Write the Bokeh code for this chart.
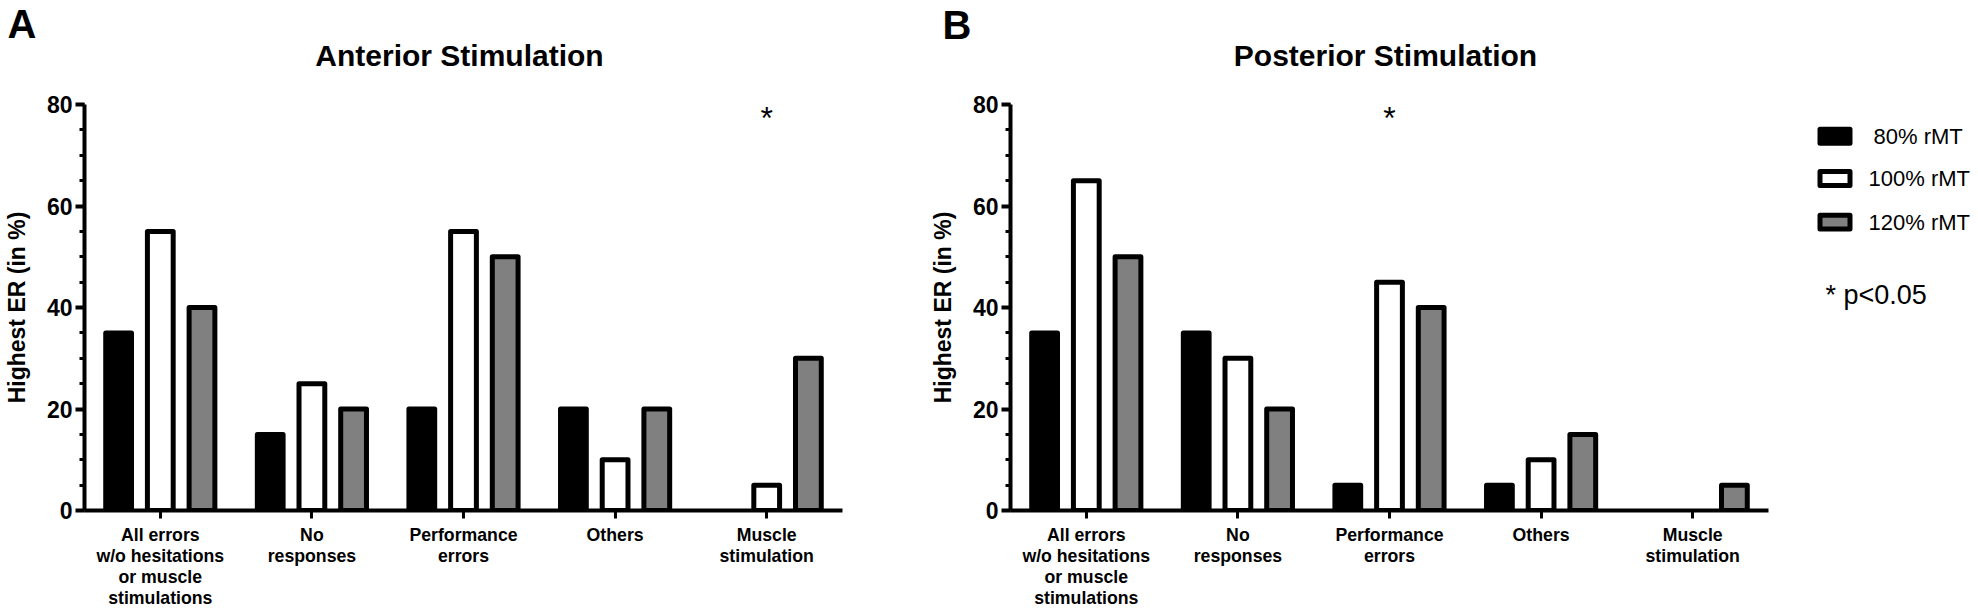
from bokeh.plotting import figure
from bokeh.models import FactorRange, Range1d, SingleIntervalTicker, ColumnDataSource
from bokeh.transform import dodge
from bokeh.layouts import row, column
from bokeh.embed import file_html
from bokeh.resources import INLINE
from bokeh.core.properties import value

# ---------------- data ----------------
categories = [
    "All errors\nw/o hesitations\nor muscle\nstimulations",
    "No\nresponses",
    "Performance\nerrors",
    "Others",
    "Muscle\nstimulation",
]
levels = ["80% rMT", "100% rMT", "120% rMT"]

anterior_80 = [35, 15, 20, 20, 0]
anterior_100 = [55, 25, 55, 10, 5]
anterior_120 = [40, 20, 50, 20, 30]

posterior_80 = [35, 35, 5, 5, 0]
posterior_100 = [65, 30, 45, 10, 0]
posterior_120 = [50, 20, 40, 15, 5]

anterior_sig = ["Muscle\nstimulation"]
posterior_sig = ["Performance\nerrors"]

panel_titles = ["Anterior Stimulation", "Posterior Stimulation"]
panel_letters = ["A", "B"]
y_label = "Highest ER (in %)"
sig_note = "* p<0.05"

# ---------------- style / layout ----------------
FONT = "Liberation Sans"
FILLS = ["#000000", "#ffffff", "#808080"]
OFFSETS = [-0.275, 0.0, 0.275]
BAR_W = 0.17
STRIP_H = 78
ROW_H = 532
FRAME_W = 766
FRAME_H = 409
TOP = 104 - STRIP_H
BOTTOM = ROW_H - TOP - FRAME_H
FRAME_BOTTOM_PAGE = 104 + FRAME_H
W_A, W_B, W_C = 926, 864, 186


def no_axes_fig(w, h, top=0, bottom=0):
    f = figure(width=w, height=h, x_range=Range1d(0, w), y_range=Range1d(0, h - top - bottom),
               x_axis_type=None, y_axis_type=None, min_border=0,
               min_border_left=0, min_border_right=0, min_border_top=top,
               min_border_bottom=bottom, title=None,
               output_backend="svg", toolbar_location=None)
    f.outline_line_color = None
    f.xgrid.visible = False
    f.ygrid.visible = False
    return f


def make_panel(series, sig, left, right):
    p = figure(x_range=FactorRange(factors=categories), y_range=Range1d(0, 80),
               width=left + FRAME_W + right, height=ROW_H,
               min_border_left=left, min_border_right=right,
               min_border_top=TOP, min_border_bottom=BOTTOM,
               title=None, output_backend="svg", toolbar_location=None)
    p.outline_line_color = None
    p.xgrid.visible = False
    p.ygrid.visible = False

    for i, vals in enumerate(series):
        cats = [c for c, v in zip(categories, vals) if v > 0]
        tops = [v for v in vals if v > 0]
        src = ColumnDataSource(dict(cat=cats, top=tops))
        p.vbar(x=dodge("cat", OFFSETS[i], range=p.x_range), top="top",
               width=BAR_W, bottom=0, source=src,
               fill_color=FILLS[i], line_color="black", line_width=5,
               line_join="round")

    p.text(x=sig, y=[80] * len(sig), text=["*"] * len(sig),
           text_font=value(FONT), text_font_size="32px", text_align="center",
           text_baseline="middle", y_offset=13, text_color="black")

    ya = p.yaxis[0]
    ya.ticker = SingleIntervalTicker(interval=20, num_minor_ticks=4)
    ya.axis_line_width = 4
    ya.axis_line_color = "black"
    ya.major_tick_line_width = 4
    ya.major_tick_out = 9
    ya.major_tick_in = 0
    ya.minor_tick_line_width = 3
    ya.minor_tick_out = 5
    ya.minor_tick_in = 0
    ya.major_label_text_font = FONT
    ya.major_label_text_font_size = "23px"
    ya.major_label_text_font_style = "bold"
    ya.major_label_text_color = "black"
    ya.major_label_standoff = 3
    ya.axis_label = y_label
    ya.axis_label_text_font = FONT
    ya.axis_label_text_font_size = "23px"
    ya.axis_label_text_font_style = "bold"
    ya.axis_label_text_color = "black"
    ya.axis_label_standoff = 14

    xa = p.xaxis[0]
    xa.axis_line_width = 4
    xa.axis_line_color = "black"
    xa.major_tick_line_width = 3
    xa.major_tick_out = 8
    xa.major_tick_in = 0
    xa.major_label_text_font = FONT
    xa.major_label_text_font_size = "17.7px"
    xa.major_label_text_font_style = "bold"
    xa.major_label_text_color = "black"
    xa.major_label_text_line_height = 1.05
    xa.major_label_standoff = 6
    return p


pA = make_panel([anterior_80, anterior_100, anterior_120], anterior_sig, 76, W_A - 76 - FRAME_W)
pB = make_panel([posterior_80, posterior_100, posterior_120], posterior_sig, 76, W_B - 76 - FRAME_W)

# ---- top strip: panel letters and panel titles (y measured up from strip bottom) ----
strip = no_axes_fig(W_A + W_B + W_C, STRIP_H)
strip.text(x=[7, 942], y=[STRIP_H - 23, STRIP_H - 24], text=panel_letters,
           text_font=value(FONT), text_font_size="40px", text_font_style="bold",
           text_baseline="middle", text_color="black")
strip.text(x=[76 + FRAME_W / 2, W_A + 76 + FRAME_W / 2], y=[STRIP_H - 55] * 2,
           text=panel_titles, text_font=value(FONT), text_font_size="30px",
           text_font_style="bold", text_align="center", text_baseline="middle",
           text_color="black")

# ---- right column: legend swatches, legend labels and significance note ----
pC = no_axes_fig(W_C, ROW_H, TOP, BOTTOM)
row_y = [FRAME_BOTTOM_PAGE - py for py in (136, 178.5, 222.5)]
label_x = [83, 78, 78]
pC.rect(x=[44.5] * 3, y=row_y, width=30, height=14, fill_color=FILLS,
        line_color="black", line_width=5, line_join="round")
pC.text(x=label_x, y=row_y, text=levels, text_font=value(FONT),
        text_font_size="22px", text_baseline="middle", text_color="black")
pC.text(x=[35], y=[FRAME_BOTTOM_PAGE - 296], text=[sig_note], text_font=value(FONT),
        text_font_size="27px", text_baseline="middle", text_color="black")

layout = column(strip, row(pA, pB, pC))
open("out.html", "w").write(file_html(layout, INLINE, "Highest ER"))
